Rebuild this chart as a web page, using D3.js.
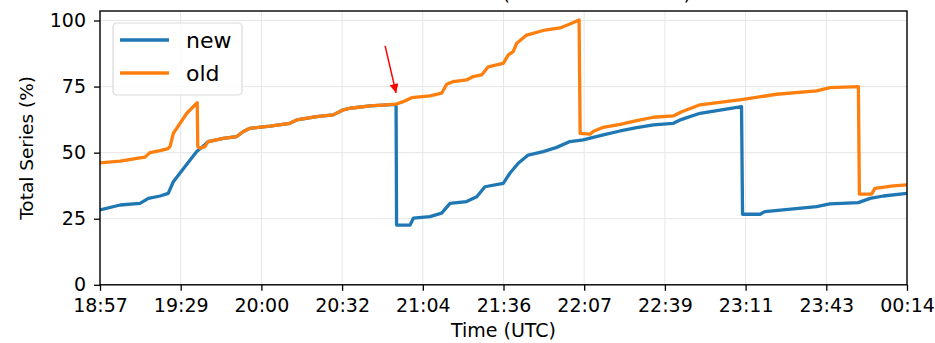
<!DOCTYPE html>
<html><head><meta charset="utf-8">
<script src="https://cdn.jsdelivr.net/npm/d3@7"></script>
<style>body{margin:0;background:#fff}svg{display:block}text{font-family:"DejaVu Sans",sans-serif;fill:#000}</style>
</head><body><svg width="935" height="343"></svg>
<script>
// ---- data (minutes since 18:57 UTC, percent) ----
const xTickLabels = ["18:57","19:29","20:00","20:32","21:04","21:36","22:07","22:39","23:11","23:43","00:14"];
const yTickValues = [0, 25, 50, 75, 100];
const seriesNames = ["new", "old"];
const seriesColors = ["#1f77b4", "#ff7f0e"];
const oldTimes = [0,7.9,15.7,17.7,19.6,23.6,26.7,27.5,28.8,34.1,38.2,38.4,39.3,41.2,42.5,48.4,53.7,56.3,58.9,66.8,74.6,77.3,85.1,91.6,95.6,98.2,106.1,116.5,119.1,122.4,129.6,134.2,136.2,138.8,144.0,146.6,149.9,152.5,155.8,158.4,160.4,162.3,163.7,167.6,174.8,180.7,184.6,188.2,188.6,192.5,193.7,197.7,204.3,210.8,217.4,225.2,228.5,235.7,252.7,265.8,281.5,286.7,297.9,298.3,303.1,304.4,311.6,317];
const oldValues = [46.1,46.8,48.0,48.3,50.0,50.8,51.5,52.3,57.3,64.9,68.9,52.3,51.7,52.3,54.2,55.4,56.1,58.0,59.2,60.0,61.1,62.4,63.6,64.3,66.2,66.8,67.7,68.4,69.3,70.8,71.5,72.5,75.9,76.9,77.5,78.8,79.4,82.5,83.2,83.8,87.0,88.2,91.4,94.5,96.4,97.2,98.7,100.2,57.3,57.0,58.0,59.6,60.7,62.1,63.4,63.9,65.5,68.1,70.2,72.1,73.4,74.6,75.0,34.3,34.3,36.5,37.4,37.8];
const newTimes = [0,7.9,15.7,19.0,23.6,26.8,28.8,35.4,38.0,41.2,42.5,48.4,53.7,56.3,58.9,66.8,74.6,77.3,85.1,91.6,95.6,98.2,106.1,116.3,116.5,121.8,123.1,129.6,134.2,137.5,144.0,148.0,151.2,158.4,161.0,164.3,168.2,174.1,179.4,184.6,189.8,197.7,204.3,210.8,217.4,225.2,228.5,235.7,252.0,252.4,259.3,261.2,281.5,286.7,297.9,302.5,307.7,317];
const newValues = [28.3,30.2,30.8,32.7,33.6,34.6,39.0,47.2,50.4,53.0,54.2,55.4,56.1,58.0,59.2,60.0,61.1,62.4,63.6,64.3,66.2,66.8,67.7,68.3,22.6,22.6,25.2,25.8,27.1,30.8,31.5,33.3,37.1,38.4,42.2,46.0,49.1,50.4,52.0,54.2,54.8,56.7,58.2,59.5,60.5,61.1,62.6,64.9,67.4,26.7,26.7,27.7,29.6,30.6,31.1,32.7,33.6,34.6];
const arrowFrom = [112.0, 90.4];
const arrowTo = [116.3, 72.6];
const titleText = "Total Series Count (old vs new nodes)";

// ---- layout ----
const svg = d3.select("svg");
const L = 100, R = 907, T = 11, B = 284.8;
const xMax = 317;
const x = d3.scaleLinear().domain([0, xMax]).range([L, R]);
const y = d3.scaleLinear().domain([0, 103.6]).range([B, T]);
const xTickValues = d3.range(xTickLabels.length).map(i => i * xMax / (xTickLabels.length - 1));

// title (mostly cut off above the view)
svg.append("text").attr("x", (L + R) / 2).attr("y", 0).attr("text-anchor", "middle")
  .style("font-size", "20px").text(titleText);

// grid
const grid = svg.append("g").attr("stroke", "#e6e6e6").attr("stroke-width", 1);
grid.selectAll(".gx").data(xTickValues).join("line")
  .attr("x1", d => x(d)).attr("x2", d => x(d)).attr("y1", T).attr("y2", B);
grid.selectAll(".gy").data(yTickValues).join("line")
  .attr("x1", L).attr("x2", R).attr("y1", d => y(d)).attr("y2", d => y(d));

// clip
svg.append("clipPath").attr("id", "clip").append("rect")
  .attr("x", L).attr("y", T).attr("width", R - L).attr("height", B - T);

const line = d3.line().x(d => x(d[0])).y(d => y(d[1]));
const newData = newTimes.map((t, i) => [t, newValues[i]]);
const oldData = oldTimes.map((t, i) => [t, oldValues[i]]);
const plot = svg.append("g").attr("clip-path", "url(#clip)");
[[newData, seriesColors[0]], [oldData, seriesColors[1]]].forEach(([d, c]) => {
  plot.append("path").datum(d).attr("d", line).attr("fill", "none")
    .attr("stroke", c).attr("stroke-width", 3.3).attr("stroke-linejoin", "round");
});

// axes
const xAxis = d3.axisBottom(x).tickValues(xTickValues).tickFormat((d, i) => xTickLabels[i])
  .tickSize(6).tickPadding(8);
const yAxis = d3.axisLeft(y).tickValues(yTickValues).tickSize(6).tickPadding(8);
const gx = svg.append("g").attr("transform", `translate(0,${B})`).call(xAxis);
const gy = svg.append("g").attr("transform", `translate(${L},0)`).call(yAxis);
[gx, gy].forEach(g => {
  g.select(".domain").remove();
  g.selectAll(".tick line").attr("stroke", "#000").attr("stroke-width", 1.3);
  g.selectAll(".tick text").style("font-size", "19px").attr("fill", "#000");
});

// frame
svg.append("rect").attr("x", L).attr("y", T).attr("width", R - L).attr("height", B - T)
  .attr("fill", "none").attr("stroke", "#000").attr("stroke-width", 1.4);

// axis labels
svg.append("text").attr("x", (L + R) / 2).attr("y", 337).attr("text-anchor", "middle")
  .style("font-size", "19px").text("Time (UTC)");
svg.append("text").attr("transform", `translate(33,${(T + B) / 2}) rotate(-90)`)
  .attr("text-anchor", "middle").style("font-size", "18.5px").text("Total Series (%)");

// arrow annotation
svg.append("defs").append("marker").attr("id", "ah")
  .attr("viewBox", "0 0 10 10").attr("refX", 10).attr("refY", 5)
  .attr("markerUnits", "userSpaceOnUse").attr("markerWidth", 11).attr("markerHeight", 9)
  .attr("orient", "auto")
  .append("path").attr("d", "M0,0 L10,5 L0,10 z").attr("fill", "#ff0000");
svg.append("line")
  .attr("x1", x(arrowFrom[0])).attr("y1", y(arrowFrom[1]))
  .attr("x2", x(arrowTo[0])).attr("y2", y(arrowTo[1]))
  .attr("stroke", "#ff0000").attr("stroke-width", 1.5).attr("marker-end", "url(#ah)");

// legend
const lg = svg.append("g");
lg.append("rect").attr("x", 113).attr("y", 23).attr("width", 129).attr("height", 72)
  .attr("rx", 4).attr("fill", "#fff").attr("fill-opacity", 0.8)
  .attr("stroke", "#d9d9d9").attr("stroke-width", 1.2);
seriesNames.forEach((n, i) => {
  const cy = 40 + i * 33;
  lg.append("line").attr("x1", 120).attr("x2", 169).attr("y1", cy).attr("y2", cy)
    .attr("stroke", seriesColors[i]).attr("stroke-width", 3.3);
  lg.append("text").attr("x", 186).attr("y", cy).attr("dy", "0.35em")
    .style("font-size", "22px").text(n);
});
</script>
</body></html>
